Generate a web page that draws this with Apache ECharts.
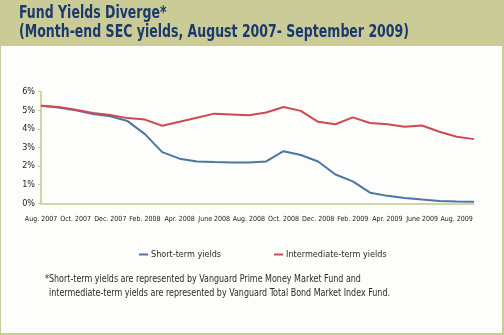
<!DOCTYPE html>
<html>
<head>
<meta charset="utf-8">
<script src="https://cdn.jsdelivr.net/npm/echarts@6/dist/echarts.min.js"></script>
<style>
html,body{margin:0;padding:0;background:#CBCB98;}
#c{width:504px;height:335px;}
</style>
</head>
<body>
<div id="c"></div>
<script>
const categories = ["Aug. 2007","Sept. 2007","Oct. 2007","Nov. 2007","Dec. 2007","Jan. 2008","Feb. 2008","Mar. 2008","Apr. 2008","May 2008","June 2008","July 2008","Aug. 2008","Sept. 2008","Oct. 2008","Nov. 2008","Dec. 2008","Jan. 2009","Feb. 2009","Mar. 2009","Apr. 2009","May 2009","June 2009","July 2009","Aug. 2009","Sept. 2009"];
const shortTerm = [5.25,5.15,5.0,4.8,4.68,4.42,3.72,2.75,2.4,2.25,2.22,2.2,2.2,2.25,2.8,2.6,2.25,1.55,1.18,0.57,0.4,0.28,0.2,0.13,0.1,0.08];
const intermediate = [5.25,5.18,5.03,4.85,4.75,4.58,4.5,4.17,4.38,4.6,4.82,4.78,4.73,4.88,5.18,4.97,4.38,4.25,4.62,4.32,4.25,4.12,4.18,3.85,3.58,3.45];
const yTicks = [0,1,2,3,4,5,6];
const titleLines = ["Fund Yields Diverge*","(Month-end SEC yields, August 2007- September 2009)"];
const footnote = ["*Short-term yields are represented by Vanguard Prime Money Market Fund and","intermediate-term yields are represented by Vanguard Total Bond Market Index Fund."];

const FONT = "'Liberation Sans Narrow','DejaVu Sans Condensed','Liberation Sans',sans-serif";
const cv = document.createElement('canvas').getContext('2d');
function fit(text, font, target){ cv.font = font; const w = cv.measureText(text).width; return w > 0 ? target / w : 1; }

const titleFont = "bold 18px " + FONT;
const titleScale = fit(titleLines[1], titleFont, 390);
const noteFont = "10px " + FONT;
const noteScale = fit(footnote[1], noteFont, 341);

const chart = echarts.init(document.getElementById('c'));
chart.setOption({
  animation:false,
  backgroundColor:'#CBCB98',
  textStyle:{fontFamily:FONT},
  graphic:[
    {type:'rect',shape:{x:1,y:46,width:501,height:287},style:{fill:'#FDFDFB'},z:-10},
    {type:'text',x:19,y:4,scaleX:titleScale,style:{text:titleLines[0],font:titleFont,fill:'#1B3A6B'}},
    {type:'text',x:19,y:23,scaleX:titleScale,style:{text:titleLines[1],font:titleFont,fill:'#1B3A6B'}},
    {type:'text',x:45,y:274,scaleX:noteScale,style:{text:footnote[0],font:noteFont,fill:'#2a2a2a'}},
    {type:'text',x:49,y:288,scaleX:noteScale,style:{text:footnote[1],font:noteFont,fill:'#2a2a2a'}}
  ],
  grid:{left:41,right:30,top:91.7,bottom:131.7,containLabel:false},
  legend:{
    left:134,top:245,itemWidth:9,itemHeight:2,itemGap:53,icon:'rect',
    textStyle:{fontFamily:FONT,fontSize:9,color:'#2a2a2a',padding:[0,0,0,-2]},
    data:['Short-term yields','Intermediate-term yields']
  },
  xAxis:{
    type:'category',data:categories,boundaryGap:false,
    axisLine:{lineStyle:{color:'#C6C68E',width:1.5}},
    axisTick:{show:false},
    axisLabel:{interval:(i)=>i%2===0,fontSize:7,color:'#222',margin:12,fontFamily:FONT,hideOverlap:false}
  },
  yAxis:{
    type:'value',min:0,max:6,interval:1,
    axisLine:{show:true,lineStyle:{color:'#C6C68E',width:1.5}},
    axisTick:{show:true,length:3,lineStyle:{color:'#C6C68E'}},
    splitLine:{show:false},
    axisLabel:{formatter:v=>yTicks.includes(v)?v+'%':'',fontSize:9,color:'#222',margin:6,fontFamily:FONT}
  },
  series:[
    {name:'Short-term yields',type:'line',data:shortTerm,symbol:'none',lineStyle:{color:'#4A76A6',width:2},itemStyle:{color:'#4A76A6'}},
    {name:'Intermediate-term yields',type:'line',data:intermediate,symbol:'none',lineStyle:{color:'#CC4A50',width:2},itemStyle:{color:'#CC4A50'}}
  ]
});
</script>
</body>
</html>
